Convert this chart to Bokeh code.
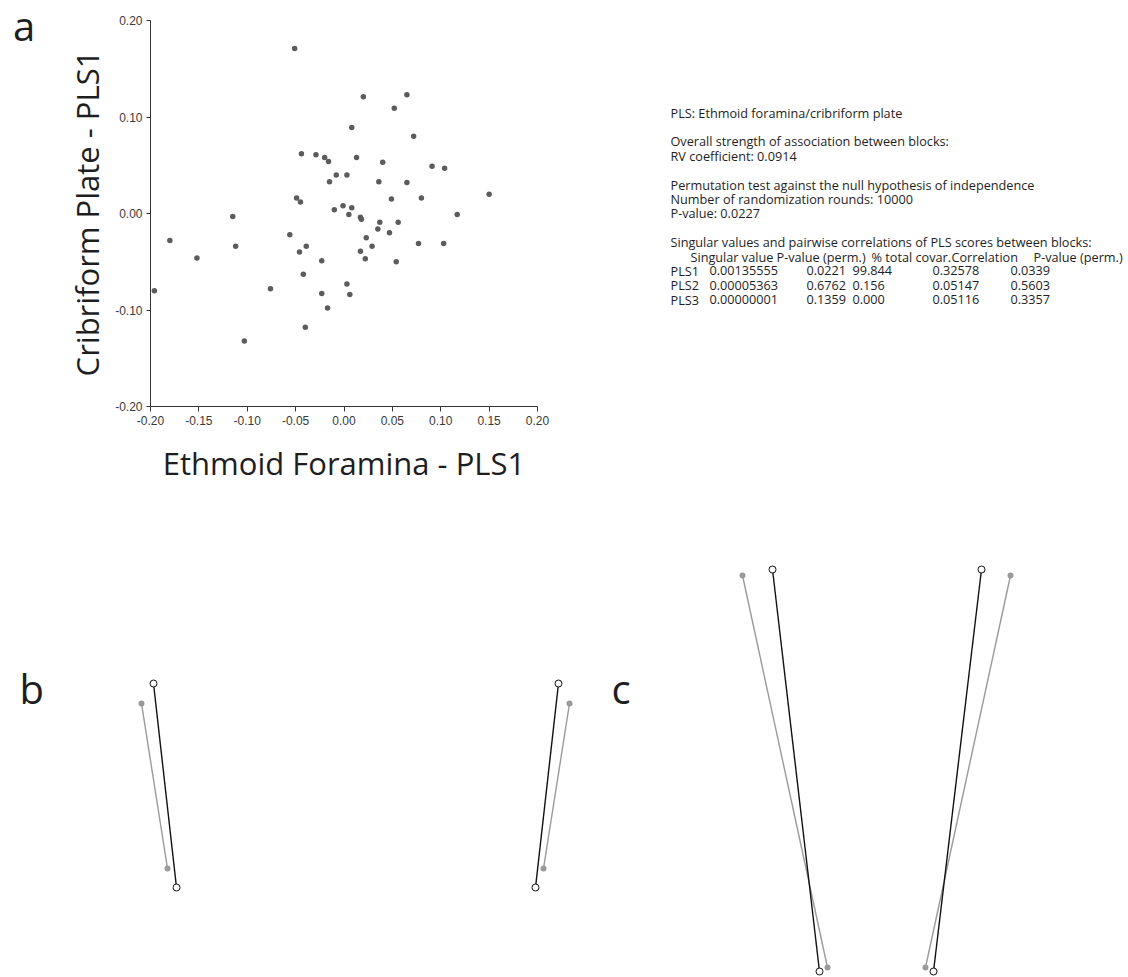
from bokeh.plotting import figure
from bokeh.layouts import column, row
from bokeh.models import Range1d, FixedTicker, PrintfTickFormatter, Label, Div
from bokeh.core.properties import value
from bokeh.embed import file_html
from bokeh.resources import INLINE

# ---------------- data: panel a (PLS1 scores) ----------------
ethmoid_pls1 = [-0.051, 0.020, 0.065, 0.052, 0.008, 0.072, -0.044, -0.029, -0.020, -0.016,
                0.013, 0.040, 0.091, 0.104, -0.008, 0.003, -0.015, 0.036, 0.065, 0.150,
                -0.049, -0.045, 0.049, 0.080, -0.001, -0.010, 0.008, 0.117, 0.005, 0.017,
                0.018, 0.037, 0.056, 0.035, 0.047, 0.023, 0.029, -0.039, -0.046, 0.017,
                0.022, 0.077, 0.103, 0.054, -0.023, -0.042, 0.003, -0.023, 0.006, -0.017,
                -0.040, -0.115, -0.180, -0.056, -0.112, -0.152, -0.196, -0.076, -0.103]
cribriform_pls1 = [0.171, 0.121, 0.123, 0.109, 0.089, 0.080, 0.062, 0.061, 0.058, 0.054,
                   0.058, 0.053, 0.049, 0.047, 0.040, 0.040, 0.033, 0.033, 0.032, 0.020,
                   0.016, 0.012, 0.015, 0.016, 0.008, 0.004, 0.006, -0.001, -0.001, -0.004,
                   -0.006, -0.009, -0.009, -0.016, -0.020, -0.025, -0.034, -0.034, -0.040, -0.039,
                   -0.047, -0.031, -0.031, -0.050, -0.049, -0.063, -0.073, -0.083, -0.084, -0.098,
                   -0.118, -0.003, -0.028, -0.022, -0.034, -0.046, -0.080, -0.078, -0.132]
x_ticks = [-0.20, -0.15, -0.10, -0.05, 0.00, 0.05, 0.10, 0.15, 0.20]
y_ticks = [-0.20, -0.10, 0.00, 0.10, 0.20]

# ---------------- data: PLS summary text ----------------
stats_lines = ["PLS: Ethmoid foramina/cribriform plate",
               "Overall strength of association between blocks:",
               "RV coefficient:  0.0914",
               "Permutation test against the null hypothesis of independence",
               "Number of randomization rounds: 10000",
               "P-value: 0.0227",
               "Singular values and pairwise correlations of PLS scores between blocks:"]
stats_line_index = [0, 2, 3, 5, 6, 7, 9]
table_header = ["Singular value", "P-value (perm.)", "% total covar.", "Correlation", "P-value (perm.)"]
table_rows = ["PLS1", "PLS2", "PLS3"]
singular_values = ["0.00135555", "0.00005363", "0.00000001"]
sv_pvalues = ["0.0221", "0.6762", "0.1359"]
pct_covar = ["99.844", "0.156", "0.000"]
correlations = ["0.32578", "0.05147", "0.05116"]
corr_pvalues = ["0.0339", "0.5603", "0.3357"]

# ---------------- data: panels b and c (landmark wireframes) ----------------
b_black_left_x, b_black_left_y = [153, 176], [683, 887]
b_gray_left_x, b_gray_left_y = [141, 167], [703, 868]
b_black_right_x, b_black_right_y = [558, 535], [683, 887]
b_gray_right_x, b_gray_right_y = [569, 543], [703, 868]
c_black_left_x, c_black_left_y = [772, 819], [569, 971]
c_gray_left_x, c_gray_left_y = [742, 827], [575, 967]
c_black_right_x, c_black_right_y = [981, 933], [569, 971]
c_gray_right_x, c_gray_right_y = [1010, 925], [575, 967]

TXT = "#1e1e1e"
BODY_FONT = value("Open Sans")
BODY_SIZE = "12.7px"

# ---------------- panel letter a ----------------
div_a = Div(text='<span style="display:block;margin:6px 0 0 13px;font-family:\'Open Sans\';'
                 'font-size:40px;line-height:40px;color:#1e1e1e">a</span>',
            width=40, height=490, margin=(0, 0, 0, 0))

# ---------------- panel a ----------------
pa = figure(width=524, height=490, x_range=Range1d(-0.2, 0.2), y_range=Range1d(-0.2, 0.2),
            output_backend="svg", toolbar_location=None,
            min_border_left=110, min_border_right=27, min_border_top=20, min_border_bottom=84)
pa.scatter(ethmoid_pls1, cribriform_pls1, size=5.5, color="#5c5c5c", line_color=None)
pa.grid.visible = False
pa.outline_line_color = None
for ax in (pa.xaxis[0], pa.yaxis[0]):
    ax.formatter = PrintfTickFormatter(format="%.2f")
    ax.minor_tick_line_color = None
    ax.axis_line_color = "#333333"
    ax.major_tick_line_color = "#333333"
    ax.major_tick_in = 0
    ax.major_label_text_font = "Liberation Sans"
    ax.major_label_text_font_size = "12px"
    ax.major_label_text_color = "#3a3a3a"
    ax.axis_label_text_font = "Open Sans"
    ax.axis_label_text_font_style = "normal"
    ax.axis_label_text_color = TXT
    ax.axis_label_text_font_size = "31px"
pa.xaxis.ticker = FixedTicker(ticks=x_ticks)
pa.yaxis.ticker = FixedTicker(ticks=y_ticks)
pa.xaxis.major_tick_out = 5
pa.yaxis.major_tick_out = 4
pa.xaxis.major_label_standoff = 4
pa.yaxis.major_label_standoff = 4
pa.xaxis.axis_label = "Ethmoid Foramina - PLS1"
pa.yaxis.axis_label = "Cribriform Plate - PLS1"
pa.xaxis.axis_label_standoff = 14
pa.yaxis.axis_label_standoff = 4

# ---------------- text panel ----------------
pt = figure(width=564, height=490, x_range=Range1d(564, 1128), y_range=Range1d(406, 20),
            output_backend="svg", toolbar_location=None,
            min_border_left=0, min_border_right=0, min_border_top=20, min_border_bottom=84)
pt.axis.visible = False
pt.grid.visible = False
pt.outline_line_color = None
LINE0, STEP, X0 = 112, 14.4, 670
pt.text(x=[X0] * len(stats_lines), y=[LINE0 + STEP * k for k in stats_line_index], text=stats_lines,
        text_font=BODY_FONT, text_font_size=BODY_SIZE, text_color=TXT, text_baseline="middle")
header_x = [690, 776, 871, 951, 1033]
pt.text(x=header_x, y=[LINE0 + STEP * 10] * len(header_x), text=table_header,
        text_font=BODY_FONT, text_font_size=BODY_SIZE, text_color=TXT, text_baseline="middle")
col_x = [670, 709, 806, 852, 932, 1010]
cols = [table_rows, singular_values, sv_pvalues, pct_covar, correlations, corr_pvalues]
for cx, vals in zip(col_x, cols):
    pt.text(x=[cx] * 3, y=[LINE0 + STEP * (11 + i) for i in range(3)], text=vals,
            text_font=BODY_FONT, text_font_size=BODY_SIZE, text_color=TXT, text_baseline="middle")

# ---------------- panels b and c ----------------
def wire_panel(x0, x1, pairs, letter, lx):
    p = figure(width=x1 - x0, height=487, x_range=Range1d(x0, x1), y_range=Range1d(977, 490),
               output_backend="svg", toolbar_location=None, min_border=0)
    p.axis.visible = False
    p.grid.visible = False
    p.outline_line_color = None
    for (gx, gy, bx, by) in pairs:
        p.line(gx, gy, line_color="#9a9a9a", line_width=1.4)
        p.line(bx, by, line_color="#111111", line_width=1.4)
    for (gx, gy, bx, by) in pairs:
        p.scatter(gx, gy, size=6, color="#9a9a9a", line_color=None)
        p.scatter(bx, by, size=7, fill_color="white", line_color="#111111", line_width=1)
    p.add_layout(Label(x=lx, y=688, text=letter, text_font="Open Sans", text_font_size="40px",
                       text_color=TXT, text_baseline="alphabetic"))
    return p

pb = wire_panel(0, 600, [(b_gray_left_x, b_gray_left_y, b_black_left_x, b_black_left_y),
                         (b_gray_right_x, b_gray_right_y, b_black_right_x, b_black_right_y)], "b", 19)
pc = wire_panel(600, 1128, [(c_gray_left_x, c_gray_left_y, c_black_left_x, c_black_left_y),
                            (c_gray_right_x, c_gray_right_y, c_black_right_x, c_black_right_y)], "c", 611)

layout = column(row(div_a, pa, pt), row(pb, pc))
open("out.html", "w").write(file_html(layout, INLINE))
